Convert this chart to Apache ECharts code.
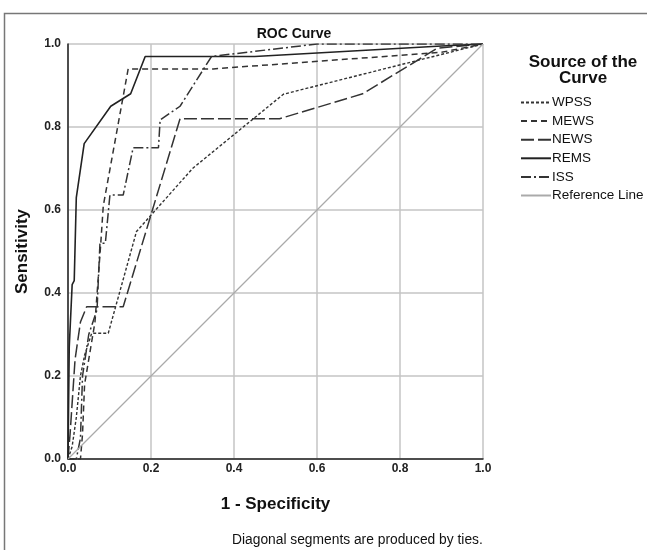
<!DOCTYPE html>
<html>
<head>
<meta charset="utf-8">
<script src="https://cdn.jsdelivr.net/npm/echarts@6/dist/echarts.min.js"></script>
<style>html,body{margin:0;padding:0;background:#fff;}#c{width:647px;height:550px;}</style>
</head>
<body>
<div id="c"></div>
<script>
var xTicks = [0, 0.2, 0.4, 0.6, 0.8, 1.0];
var seriesNames = ['WPSS', 'MEWS', 'NEWS', 'REMS', 'ISS', 'Reference Line'];
var wpss = [[0,0],[0.01,0.03],[0.02,0.1],[0.03,0.2],[0.04,0.25],[0.057,0.303],[0.097,0.303],[0.165,0.548],[0.30,0.70],[0.519,0.879],[1,1]];
var mews = [[0,0],[0.03,0],[0.035,0.06],[0.04,0.18],[0.055,0.27],[0.065,0.33],[0.079,0.52],[0.085,0.61],[0.145,0.94],[0.35,0.94],[0.9,0.98],[1,1]];
var news = [[0,0],[0.005,0.06],[0.017,0.24],[0.03,0.33],[0.045,0.367],[0.133,0.367],[0.27,0.82],[0.51,0.82],[0.71,0.88],[0.89,0.99],[1,1]];
var rems = [[0,0],[0.003,0.27],[0.01,0.42],[0.015,0.43],[0.02,0.63],[0.039,0.76],[0.103,0.85],[0.151,0.88],[0.186,0.97],[0.45,0.97],[0.9,0.995],[1,1]];
var iss = [[0,0],[0.02,0],[0.03,0.05],[0.035,0.2],[0.05,0.3],[0.07,0.36],[0.077,0.52],[0.09,0.52],[0.101,0.636],[0.133,0.636],[0.157,0.75],[0.218,0.75],[0.222,0.817],[0.27,0.85],[0.346,0.97],[0.6,1],[1,1]];
var refLine = [[0,0],[1,1]];

var chart = echarts.init(document.getElementById('c'), null, {renderer: 'canvas'});
function ser(name, data, type, color, width) {
  return {name: name, type: 'line', data: data, symbol: 'none', showSymbol: false, animation: false,
    lineStyle: {color: color, width: width, type: type}, itemStyle: {color: color}};
}
var font = 'Arial, "Liberation Sans", sans-serif';
chart.setOption({
  animation: false,
  backgroundColor: '#fff',
  textStyle: {fontFamily: font},
  grid: {left: 68, right: 164, top: 44, bottom: 91, containLabel: false},
  xAxis: {type: 'value', min: 0, max: 1, interval: 0.2,
    name: '1 - Specificity', nameLocation: 'middle', nameGap: 37,
    nameTextStyle: {fontSize: 17, fontWeight: 'bold', color: '#111', fontFamily: font},
    axisLine: {show: true, lineStyle: {color: '#222', width: 1.5}}, axisTick: {show: false},
    axisLabel: {fontSize: 12, fontWeight: 'bold', color: '#222', margin: 4, formatter: function(v){return v.toFixed(1);}},
    splitLine: {show: true, lineStyle: {color: '#c4c4c4', width: 1.5}}},
  yAxis: {type: 'value', min: 0, max: 1, interval: 0.2,
    name: 'Sensitivity', nameLocation: 'middle', nameGap: 37,
    nameTextStyle: {fontSize: 17, fontWeight: 'bold', color: '#111', fontFamily: font},
    axisLine: {show: true, lineStyle: {color: '#222', width: 1.5}}, axisTick: {show: false},
    axisLabel: {fontSize: 12, fontWeight: 'bold', color: '#222', margin: 7, formatter: function(v){return v.toFixed(1);}},
    splitLine: {show: true, lineStyle: {color: '#c4c4c4', width: 1.5}}},
  legend: {orient: 'vertical', left: 520, top: 95.5, itemWidth: 30, itemHeight: 12, itemGap: 4.6,
    data: seriesNames, padding: 0, itemStyle: {opacity: 0},
    textStyle: {fontSize: 13.5, color: '#111', padding: [0,0,0,-4], fontFamily: font}},
  title: {text: 'ROC Curve', left: 289, top: 22, textAlign: 'center',
    textStyle: {fontSize: 14, fontWeight: 'bold', color: '#111', fontFamily: font}},
  graphic: [
    {type: 'rect', shape: {x: 4.5, y: 13.5, width: 700, height: 600}, style: {fill: 'none', stroke: '#777', lineWidth: 1.5}, silent: true},
    {type: 'text', x: 583, y: 55, silent: true, style: {text: 'Source of the\nCurve', textAlign: 'center', fill: '#111', font: 'bold 17px Arial', lineHeight: 15.5}},
    {type: 'text', x: 232, y: 533, silent: true, style: {text: 'Diagonal segments are produced by ties.', fill: '#111', font: '13.8px Arial'}}
  ],
  series: [
    ser('WPSS', wpss, [3, 2], '#333', 1.4),
    ser('MEWS', mews, [6, 4], '#333', 1.5),
    ser('NEWS', news, [13, 4], '#333', 1.5),
    ser('REMS', rems, 'solid', '#222', 1.6),
    ser('ISS', iss, [10, 3, 2, 3], '#333', 1.5),
    ser('Reference Line', refLine, 'solid', '#aaa', 1.2)
  ]
});
</script>
</body>
</html>
